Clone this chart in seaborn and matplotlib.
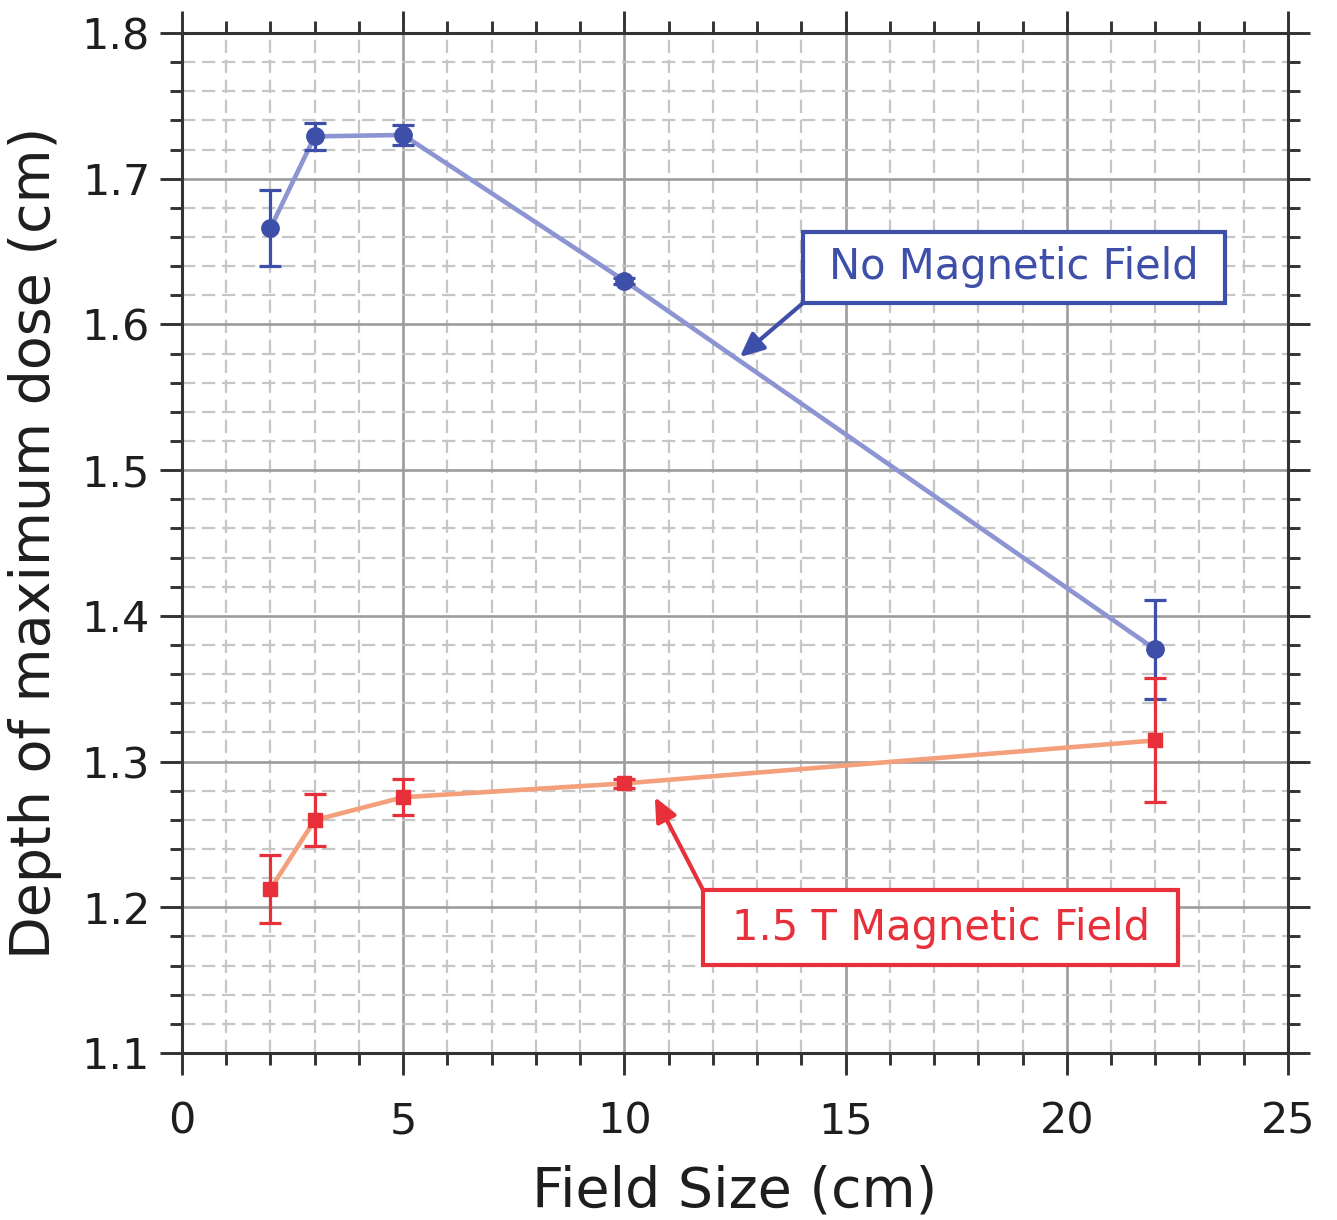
import matplotlib
matplotlib.use("Agg")
import matplotlib.pyplot as plt
import seaborn as sns
import pandas as pd
import numpy as np
from matplotlib.ticker import MultipleLocator
from matplotlib.patches import Rectangle

field_size = [2, 3, 5, 10, 22]
no_field = [1.666, 1.729, 1.730, 1.630, 1.377]
no_field_err = [0.026, 0.0095, 0.0067, 0.002, 0.034]
mag_field = [1.2125, 1.2598, 1.2755, 1.285, 1.3145]
mag_field_err = [0.0235, 0.018, 0.0124, 0.003, 0.0425]
y_ticks = [1.1, 1.2, 1.3, 1.4, 1.5, 1.6, 1.7, 1.8]

sns.set_theme(style="white")
plt.rcParams['font.family'] = ['DejaVu Sans']

fig = plt.figure(figsize=(13.37, 12.2), dpi=100)
ax = fig.add_axes([0.1361, 0.1369, 0.8272, 0.8361])

df = pd.DataFrame({
    "x": field_size * 2,
    "y": no_field + mag_field,
    "series": ["No Magnetic Field"] * 5 + ["1.5 T Magnetic Field"] * 5,
})

blue = "#3D4FA8"
blue_line = "#8C94D2"
red = "#E8303A"
red_line = "#F4A07C"

sns.lineplot(data=df[df.series == "No Magnetic Field"], x="x", y="y", ax=ax,
             color=blue_line, lw=3.3, zorder=3, legend=False)
sns.lineplot(data=df[df.series == "1.5 T Magnetic Field"], x="x", y="y", ax=ax,
             color=red_line, lw=3.3, zorder=3, legend=False)

ax.errorbar(field_size, no_field, yerr=no_field_err, fmt='o', color=blue,
            ms=12.5, capsize=8, elinewidth=2.3, capthick=2.3, zorder=4)
ax.errorbar(field_size, mag_field, yerr=mag_field_err, fmt='s', color=red,
            ms=10.5, capsize=8, elinewidth=2.3, capthick=2.3, zorder=4)

ax.set_xlim(0, 25)
ax.set_ylim(1.1, 1.8)
ax.xaxis.set_major_locator(MultipleLocator(5))
ax.xaxis.set_minor_locator(MultipleLocator(1))
ax.yaxis.set_minor_locator(MultipleLocator(0.02))
ax.set_yticks(y_ticks)
ax.set_yticklabels([f"{v:.1f}" for v in y_ticks])

ax.grid(which='major', color='#9c9c9c', lw=1.9, ls='-', zorder=1)
ax.grid(which='minor', color='#c6c6c6', lw=1.6, ls=(0, (6, 3)), zorder=0)
ax.set_axisbelow(True)

for s in ax.spines.values():
    s.set_color('#333333')
    s.set_linewidth(2.2)
    s.set_visible(True)

ax.tick_params(which='major', direction='out', length=16, width=2.1, color='#333333',
               labelsize=31, top=True, right=True, bottom=True, left=True,
               labelcolor='#1e1e1e')
ax.tick_params(which='minor', direction='out', length=8.5, width=2.1, color='#333333',
               top=True, right=True, bottom=True, left=True)
ax.tick_params(axis='x', which='major', pad=18)
ax.tick_params(axis='y', which='major', pad=7)

ax.set_xlabel("Field Size (cm)", fontsize=40, color='#1e1e1e', labelpad=16)
ax.set_ylabel("Depth of maximum dose (cm)", fontsize=40, color='#1e1e1e', labelpad=14)

# Annotation boxes
ax.add_patch(Rectangle((14.04, 1.6147), 23.58 - 14.04, 1.6634 - 1.6147,
                       fc='white', ec=blue, lw=3, zorder=6))
ax.text(18.80, 1.6394, "No Magnetic Field", fontsize=30, color=blue,
        ha='center', va='center', zorder=7)
ax.annotate("", xy=(12.61, 1.5776), xytext=(14.04, 1.6147),
            arrowprops=dict(arrowstyle='-|>,head_length=1.2,head_width=0.55',
                            color=blue, lw=3, shrinkA=0, shrinkB=0), zorder=6)

ax.add_patch(Rectangle((11.78, 1.1603), 22.51 - 11.78, 1.2118 - 1.1603,
                       fc='white', ec=red, lw=3, zorder=6))
ax.text(17.15, 1.1855, "1.5 T Magnetic Field", fontsize=30, color=red,
        ha='center', va='center', zorder=7)
ax.annotate("", xy=(10.69, 1.2756), xytext=(11.78, 1.2118),
            arrowprops=dict(arrowstyle='-|>,head_length=1.2,head_width=0.55',
                            color=red, lw=3, shrinkA=0, shrinkB=0), zorder=6)

fig.savefig("out.png", dpi=100)
